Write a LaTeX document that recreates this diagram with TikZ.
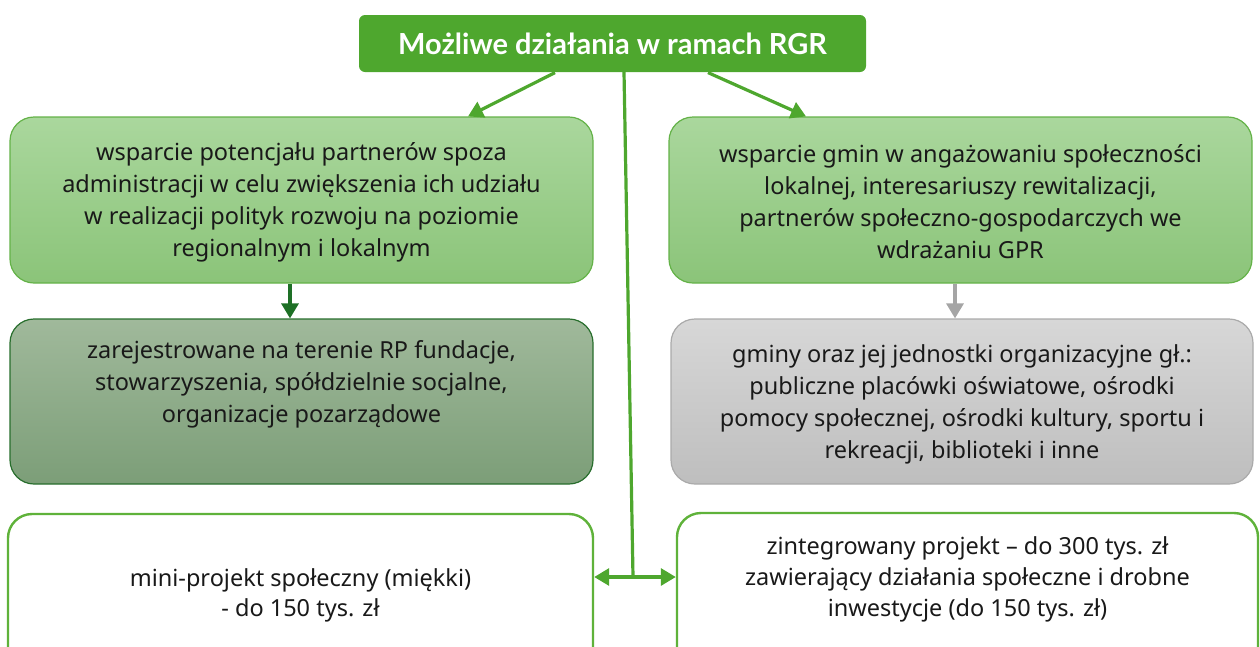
\documentclass[tikz,border=0pt]{standalone}
\usepackage{fontspec}
\setmainfont{Noto Sans}
\newfontfamily\titlefont{Lato}
\usetikzlibrary{arrows.meta,calc}
\definecolor{topgreen}{RGB}{78,167,46}
\definecolor{lgtop}{RGB}{170,215,157}
\definecolor{lgbot}{RGB}{139,196,121}
\definecolor{lgborder}{RGB}{100,178,72}
\definecolor{dgtop}{RGB}{160,185,155}
\definecolor{dgbot}{RGB}{124,158,120}
\definecolor{dgborder}{RGB}{40,110,45}
\definecolor{grtop}{RGB}{215,215,215}
\definecolor{grbot}{RGB}{190,190,190}
\definecolor{grborder}{RGB}{170,170,170}
\definecolor{wborder}{RGB}{95,178,58}
\definecolor{darrow}{RGB}{30,112,38}
\definecolor{garrow}{RGB}{165,165,165}
\begin{document}
\begin{tikzpicture}[x=1pt,y=-1pt,
  shapebox/.style={rounded corners=24pt, inner sep=0pt, line width=1.2pt},
  lightbox/.style={shapebox, draw=lgborder, top color=lgtop, bottom color=lgbot},
  darkbox/.style={shapebox, draw=dgborder, top color=dgtop, bottom color=dgbot},
  greybox/.style={shapebox, draw=grborder, top color=grtop, bottom color=grbot},
  whitebox/.style={shapebox, draw=wborder, fill=white, line width=2.4pt},
  txt/.style={align=center, inner sep=0pt, font=\fontsize{23.5}{32}\selectfont, text=black!90},
  garr/.style={line width=3.2pt, draw=topgreen, -{Triangle[length=15pt,width=17pt]}},
  darr/.style={line width=3.2pt, draw=darrow, -{Triangle[length=15pt,width=17pt]}},
  grarr/.style={line width=3.2pt, draw=garrow, -{Triangle[length=15pt,width=17pt]}},
  dblarr/.style={line width=3.2pt, draw=topgreen, {Triangle[length=15pt,width=17pt]}-{Triangle[length=15pt,width=17pt]}},
]
\useasboundingbox (0,0) rectangle (1260,646);
\clip (0,0) rectangle (1260,646);

\node[shapebox, rounded corners=6pt, fill=topgreen, minimum width=507pt, minimum height=57pt,
  font=\titlefont\bfseries\fontsize{29}{32}\selectfont, text=white] (top) at (612.5,43.5) {Możliwe działania w ramach RGR};

\node[lightbox, minimum width=583pt, minimum height=166pt] (b1) at (301.5,200) {};
\node[txt] (t1) at (301.5,202) {wsparcie potencjału partnerów spoza\\administracji w celu zwiększenia ich udziału\\w realizacji polityk rozwoju na poziomie\\regionalnym i lokalnym};

\node[lightbox, minimum width=583pt, minimum height=166pt] (b2) at (960.5,200) {};
\node[txt] (t2) at (960.5,202) {wsparcie gmin w angażowaniu społeczności\\lokalnej, interesariuszy rewitalizacji,\\partnerów społeczno-gospodarczych we\\wdrażaniu GPR};

\node[darkbox, minimum width=583pt, minimum height=165pt] (b3) at (301.5,401.5) {};
\node[txt] (t3) at (301.5,384) {zarejestrowane na terenie RP fundacje,\\stowarzyszenia, spółdzielnie socjalne,\\organizacje pozarządowe};

\node[greybox, minimum width=582pt, minimum height=165pt] (b4) at (962,401.5) {};
\node[txt] (t4) at (962,404.5) {gminy oraz jej jednostki organizacyjne gł.:\\publiczne placówki oświatowe, ośrodki\\pomocy społecznej, ośrodki kultury, sportu i\\rekreacji, biblioteki i inne};

\node[whitebox, minimum width=585pt, minimum height=170pt] (b5) at (300.5,599) {};
\node[txt, font=\fontsize{23.5}{30}\selectfont] (t5) at (300.5,595) {mini-projekt społeczny (miękki)\\- do 150 tys. zł};

\node[whitebox, minimum width=581pt, minimum height=170pt] (b6) at (967.5,598) {};
\node[txt, font=\fontsize{23.5}{31}\selectfont] (t6) at (967.5,579) {zintegrowany projekt – do 300 tys. zł\\zawierający działania społeczne i drobne\\inwestycje (do 150 tys. zł)};

\coordinate (vtop) at (624,72);
\coordinate (junc) at (633,577);

\draw[garr] (top.south -| 555,0) -- (b1.north -| 468,0);
\draw[garr] (top.south -| 708,0) -- (b2.north -| 806,0);
\draw[line width=3.2pt, topgreen] (vtop) -- (junc);
\draw[dblarr] (junc -| b5.east) -- (junc -| b6.west);
\draw[darr] (b1.south -| 290,0) -- (b3.north -| 290,0);
\draw[grarr] (b2.south -| 955,0) -- (b4.north -| 955,0);
\end{tikzpicture}
\end{document}
